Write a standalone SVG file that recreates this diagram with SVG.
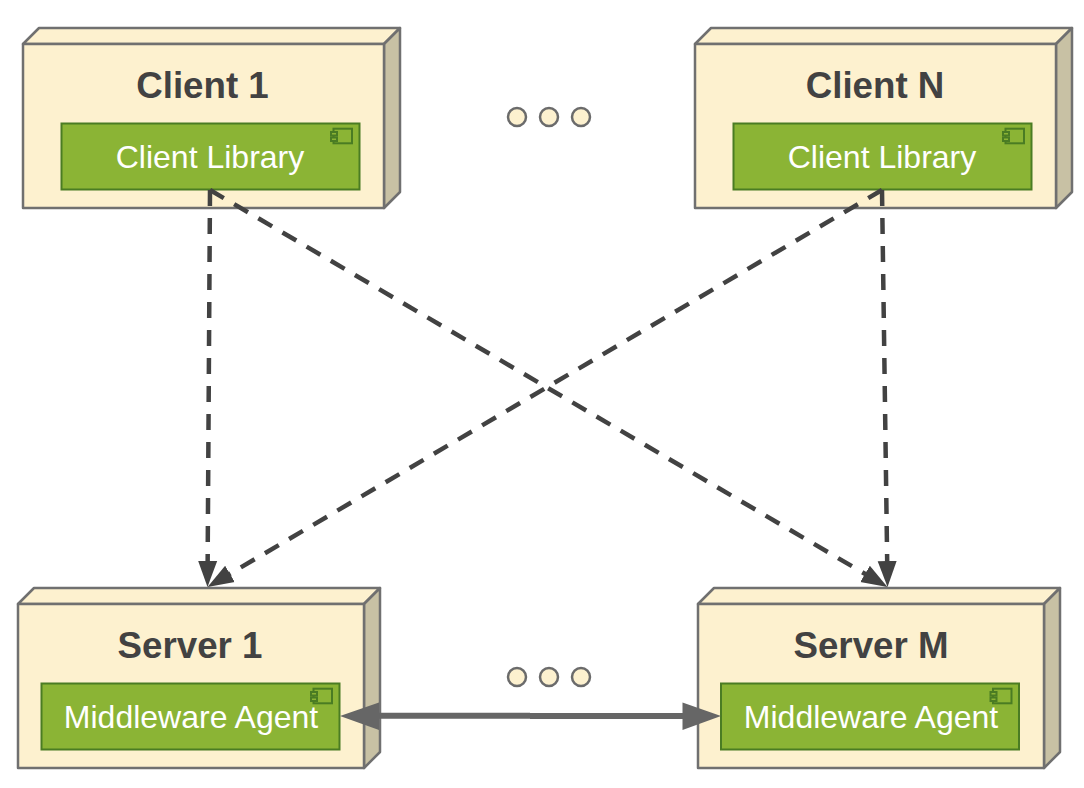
<svg xmlns="http://www.w3.org/2000/svg" width="1084" height="788" viewBox="0 0 1084 788">
<style>
.box{fill:#fdf1cf;stroke:#707070;stroke-width:2.5;stroke-linejoin:round}
.side{fill:#c8c1a4;stroke:#707070;stroke-width:2.5;stroke-linejoin:round}
.comp{fill:#8bb435;stroke:#4a7c23;stroke-width:2}
.icon{fill:#8bb435;stroke:#4a7c23;stroke-width:2}
.title{font:bold 36.700px "Liberation Sans",Arial,sans-serif;fill:#424242;text-anchor:middle}
.label{font:32px "Liberation Sans",Arial,sans-serif;fill:#fff;text-anchor:middle}
.dot{fill:#fdf1cf;stroke:#6b6b6b;stroke-width:2.5}
.dash{fill:none;stroke:#424242;stroke-width:4.500;stroke-dasharray:16 12;marker-end:url(#dark)}
</style>
<defs>
<marker id="dark" markerUnits="userSpaceOnUse" markerWidth="30" markerHeight="24" refX="9" refY="12" orient="auto"><path d="M0 2.500L26 12L0 21.500Z" fill="#424242"/></marker>
<g id="node">
<path class="box" d="M0 16L16 0H377L361 16Z"/>
<path class="side" d="M361 16L377 0V164L361 180Z"/>
<rect class="box" x="0" y="16" width="361" height="164"/>
</g>
<g id="snode">
<path class="box" d="M0 16L16 0H362L346 16Z"/>
<path class="side" d="M346 16L362 0V164L346 180Z"/>
<rect class="box" x="0" y="16" width="346" height="164"/>
</g>
<g id="cicon">
<rect class="icon" x="2.500" y="0.700" width="18.500" height="14.600"/>
<rect class="icon" x="0" y="4" width="6" height="3.500"/>
<rect class="icon" x="0" y="9.500" width="6" height="3.500"/>
</g>
</defs>
<g id="client-1">
<use href="#node" x="23" y="28"/>
<text class="title" x="202.500" y="98">Client 1</text>
<g id="client-library-1"><rect class="comp" x="61.500" y="123.500" width="298" height="66"/>
<use href="#cicon" x="331" y="128"/>
<text class="label" x="210" y="168">Client Library</text></g>
</g>
<g id="client-n">
<use href="#node" x="695" y="28"/>
<text class="title" x="875" y="98">Client N</text>
<g id="client-library-n"><rect class="comp" x="733.500" y="123.500" width="298" height="66"/>
<use href="#cicon" x="1003" y="128"/>
<text class="label" x="882" y="168">Client Library</text></g>
</g>
<g id="server-1">
<use href="#snode" x="18" y="588"/>
<text class="title" x="190" y="658">Server 1</text>
<g id="middleware-agent-1"><rect class="comp" x="41.500" y="683.500" width="298" height="66"/>
<use href="#cicon" x="311" y="688"/>
<text class="label" x="191" y="728">Middleware Agent</text></g>
</g>
<g id="server-m">
<use href="#snode" x="698" y="588"/>
<text class="title" x="871" y="658">Server M</text>
<g id="middleware-agent-m"><rect class="comp" x="721" y="683.500" width="298" height="66"/>
<use href="#cicon" x="990.500" y="688"/>
<text class="label" x="871" y="728">Middleware Agent</text></g>
</g>
<g id="dots-top"><circle class="dot" cx="517" cy="117" r="9"/><circle class="dot" cx="549" cy="117" r="9"/><circle class="dot" cx="581" cy="117" r="9"/></g>
<g id="dots-bottom"><circle class="dot" cx="517" cy="677" r="9"/><circle class="dot" cx="549" cy="677" r="9"/><circle class="dot" cx="581" cy="677" r="9"/></g>
<g id="connectors">
<path class="dash" d="M210 190L207.600 570"/>
<path class="dash" d="M210 190L872.800 578.400"/>
<path class="dash" d="M882 190L222.200 578.400"/>
<path class="dash" d="M882 190L887.300 570"/>
<path d="M370 715.700H530M530 716H690" fill="none" stroke="#666" stroke-width="6"/>
<path d="M340 716L379 702.500V730Z M721 716L682.500 702.500V730Z" fill="#666"/>
</g>
</svg>
